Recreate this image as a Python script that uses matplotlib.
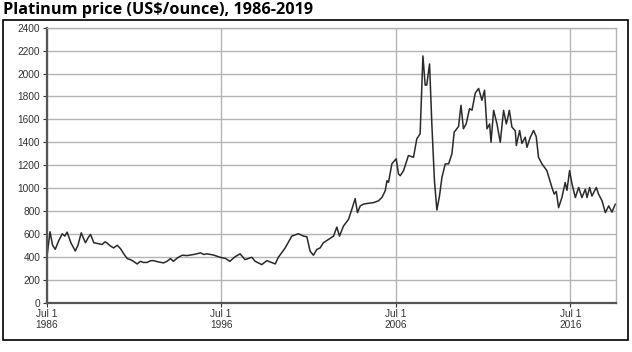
import matplotlib
matplotlib.use("Agg")
import matplotlib.pyplot as plt
from matplotlib.patches import Rectangle

# Platinum price (decimal year, US$/ounce)
years = [1986.55, 1986.70, 1986.85, 1987.00, 1987.20, 1987.40, 1987.55, 1987.68, 1987.90,
         1988.15, 1988.30, 1988.49, 1988.62, 1988.73, 1988.90, 1989.02, 1989.21, 1989.45,
         1989.69, 1989.85, 1989.97, 1990.15, 1990.34, 1990.55, 1990.74, 1990.95, 1991.12,
         1991.30, 1991.48, 1991.69, 1991.88, 1992.05, 1992.26, 1992.45, 1992.62, 1992.90,
         1993.20, 1993.40, 1993.60, 1993.77, 1994.00, 1994.27, 1994.55, 1994.91, 1995.10,
         1995.32, 1995.50, 1995.70, 1996.06, 1996.44, 1996.75, 1997.00, 1997.30, 1997.59,
         1997.87, 1998.26, 1998.45, 1998.83, 1999.12, 1999.60, 1999.78, 2000.17, 2000.55,
         2000.93, 2001.22, 2001.41, 2001.60, 2001.79, 2001.98, 2002.17, 2002.36, 2002.65,
         2002.94, 2003.13, 2003.28, 2003.51, 2003.80, 2003.99, 2004.18, 2004.31, 2004.47,
         2004.65, 2004.85, 2005.23, 2005.51, 2005.71, 2005.90, 2006.00, 2006.09, 2006.28,
         2006.47, 2006.53, 2006.66, 2006.76, 2006.95, 2007.23, 2007.52, 2007.71, 2007.90,
         2008.06, 2008.19, 2008.28, 2008.44, 2008.57, 2008.72, 2008.86, 2009.01, 2009.15,
         2009.34, 2009.53, 2009.72, 2009.85, 2010.10, 2010.24, 2010.38, 2010.54, 2010.73,
         2010.87, 2011.06, 2011.25, 2011.44, 2011.59, 2011.73, 2011.88, 2011.96, 2012.11,
         2012.30, 2012.49, 2012.68, 2012.84, 2013.01, 2013.16, 2013.35, 2013.41, 2013.60,
         2013.73, 2013.92, 2014.02, 2014.21, 2014.40, 2014.55, 2014.68, 2014.88, 2015.16,
         2015.45, 2015.58, 2015.70, 2015.83, 2016.02, 2016.21, 2016.31, 2016.46, 2016.60,
         2016.79, 2016.98, 2017.17, 2017.36, 2017.46, 2017.61, 2017.74, 2017.99, 2018.12,
         2018.32, 2018.51, 2018.70, 2018.89, 2019.08]
prices = [433, 618, 500, 465, 540, 600, 580, 615, 520,
          450, 500, 609, 560, 522, 570, 595, 522, 515,
          507, 530, 520, 495, 477, 500, 470, 420, 384,
          375, 360, 337, 360, 350, 350, 365, 366, 355,
          346, 360, 384, 360, 390, 413, 410, 419, 425,
          434, 420, 425, 415, 395, 385, 360, 400, 425,
          375, 395, 360, 331, 366, 337, 395, 477, 580,
          601, 580, 575, 448, 413, 463, 477, 522, 551,
          580, 659, 580, 668, 727, 815, 908, 785, 844,
          859, 865, 873, 888, 917, 976, 1064, 1050, 1211,
          1246, 1255, 1123, 1108, 1152, 1284, 1269, 1430, 1474,
          2154, 1899, 1900, 2084, 1562, 1064, 808, 932, 1093,
          1211, 1211, 1298, 1488, 1538, 1723, 1518, 1562, 1694,
          1680, 1830, 1870, 1767, 1855, 1518, 1560, 1400, 1679,
          1562, 1400, 1679, 1560, 1679, 1532, 1500, 1371, 1503,
          1390, 1444, 1356, 1444, 1503, 1450, 1269, 1211, 1152,
          1005, 947, 970, 829, 917, 1049, 980, 1152, 1035,
          917, 1005, 917, 990, 917, 1005, 930, 1005, 947,
          888, 785, 844, 790, 859]

tick_years = [1986.5, 1996.5, 2006.5, 2016.5]
tick_labels = ["Jul 1\n1986", "Jul 1\n1996", "Jul 1\n2006", "Jul 1\n2016"]
y_ticks = list(range(0, 2401, 200))

fig = plt.figure(figsize=(6.32, 3.52), dpi=100)
fig.patch.set_facecolor("white")

# outer frame
fig.patches.append(Rectangle((0.004, 0.034), 0.989, 0.909, transform=fig.transFigure,
                             fill=False, edgecolor="black", linewidth=1.2))

fig.text(0.005, 0.972, "Platinum price (US\\$/ounce), 1986-2019", fontsize=11.7,
         fontweight="bold", family="Open Sans", va="center", ha="left")

ax = fig.add_axes([0.0736, 0.1406, 0.9011, 0.7804])
ax.plot(years, prices, color="#2a2a2a", linewidth=1.1)

ax.set_xlim(1986.5, 2019.12)
ax.set_ylim(0, 2400)
ax.set_yticks(y_ticks)
ax.set_xticks(tick_years)
ax.set_xticklabels(tick_labels)
ax.grid(True, color="#b4b4b4", linewidth=1.0)
ax.set_axisbelow(True)

for side in ["top", "right"]:
    ax.spines[side].set_color("#b4b4b4")
    ax.spines[side].set_linewidth(1.0)
for side in ["left", "bottom"]:
    ax.spines[side].set_color("#555555")
    ax.spines[side].set_linewidth(1.6)

ax.tick_params(axis="both", labelsize=7.3, colors="#333333", length=3, width=0.8,
               pad=1.5)
for lbl in ax.get_xticklabels() + ax.get_yticklabels():
    lbl.set_family("Liberation Sans")
    lbl.set_linespacing(1.1)

fig.savefig("out.png", dpi=100)
